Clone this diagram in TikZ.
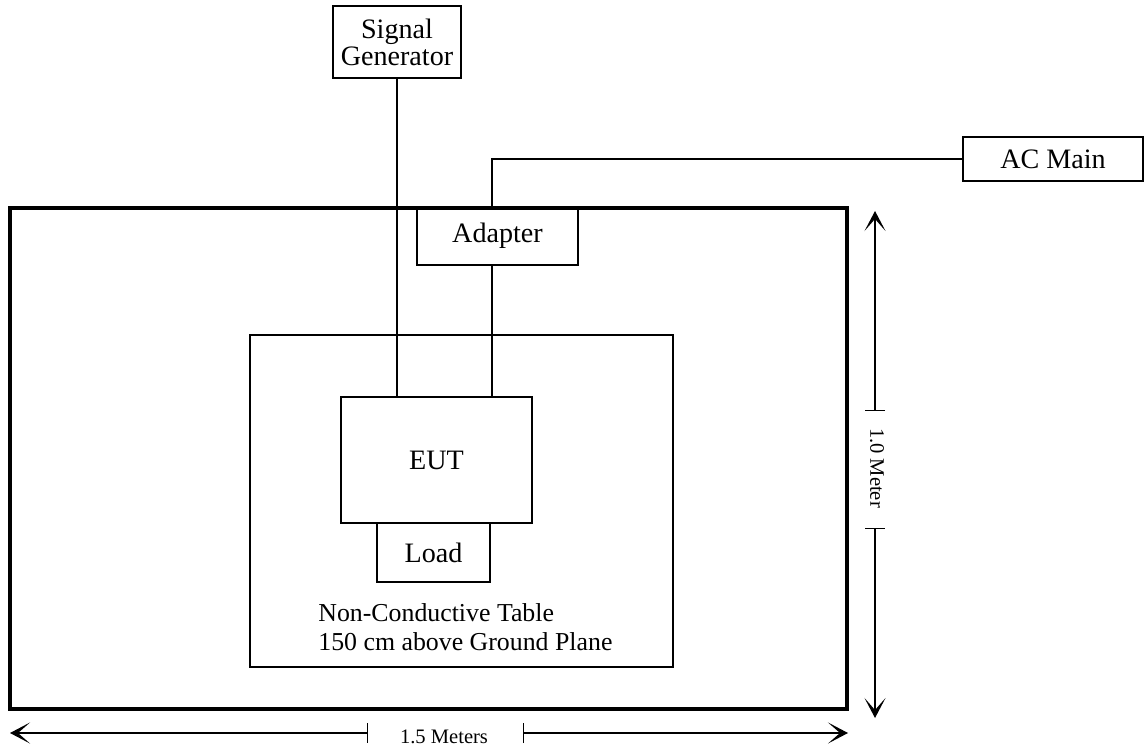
\documentclass[tikz,border=0pt]{standalone}
\usepackage{fontspec}
\setmainfont{Liberation Serif}
\usetikzlibrary{arrows.meta}

\tikzset{
	unit/.style={draw, line width=1pt, inner sep=0pt, align=center, font=\fontsize{16}{19}\selectfont},
	wire/.style={line width=1pt},
	dimline/.style={line width=0.8pt, {Bar[width=4mm]}-{Stealth[length=4mm,width=4.2mm,inset=2.4mm]}},
	dimtext/.style={inner sep=0pt, font=\fontsize{11.7}{14}\selectfont},
}

\begin{document}
\begin{tikzpicture}[x=0.2mm,y=-0.2mm] %%%%%单位为像素

	\useasboundingbox (0,0) rectangle (1145,752);%边界

	\draw [line width=2pt] (10,208) rectangle (847,709);%接地平面
	\draw [line width=1pt] (250,335) rectangle (673,667);%非导电桌

	\node [unit, minimum width=25.6mm, minimum height=14.4mm, font=\fontsize{16}{15.4}\selectfont] (sg) at (397,42) {Signal\\Generator};%信号源
	\node [unit, minimum width=36mm, minimum height=8.8mm] (ac) at (1053,159) {AC Main};%交流电源
	\node [unit, minimum width=32.2mm, minimum height=11.6mm] (adapter) at (497.5,236) {Adapter};%适配器
	\node [unit, minimum width=38.2mm, minimum height=25.2mm] (eut) at (436.5,460) {EUT};%被测设备
	\node [unit, minimum width=22.6mm, minimum height=11.8mm] (load) at (433.5,552.5) {Load};%负载
	\node [anchor=west, inner sep=0pt, align=left, font=\fontsize{14.7}{16.5}\selectfont] (tbl) at (318,627) {Non-Conductive Table\\150 cm above Ground Plane};

	\coordinate (acin) at (492,208);%电源线入口
	\draw [wire] (sg.south) -- (sg.south |- eut.north);%信号线
	\draw [wire] (ac.west) -| (acin);%电源线
	\draw [wire] (acin |- adapter.south) -- (acin |- eut.north);%适配器到EUT

	\coordinate (wl) at (10,733);
	\coordinate (wlt) at (368,733);
	\coordinate (wrt) at (523,733);
	\coordinate (wr) at (848,733);
	\draw [dimline] (wlt) -- (wl);%宽度标注
	\draw [dimline] (wrt) -- (wr);
	\node [dimtext, anchor=base] (wlen) at (444,743) {1.5 Meters};

	\coordinate (ht) at (875,211);
	\coordinate (htt) at (875,411);
	\coordinate (hbt) at (875,528);
	\coordinate (hb) at (875,718);
	\draw [dimline] (htt) -- (ht);%高度标注
	\draw [dimline] (hbt) -- (hb);
	\node [dimtext, rotate=-90] (hlen) at (877,468) {1.0 Meter};

\end{tikzpicture}
\end{document}
